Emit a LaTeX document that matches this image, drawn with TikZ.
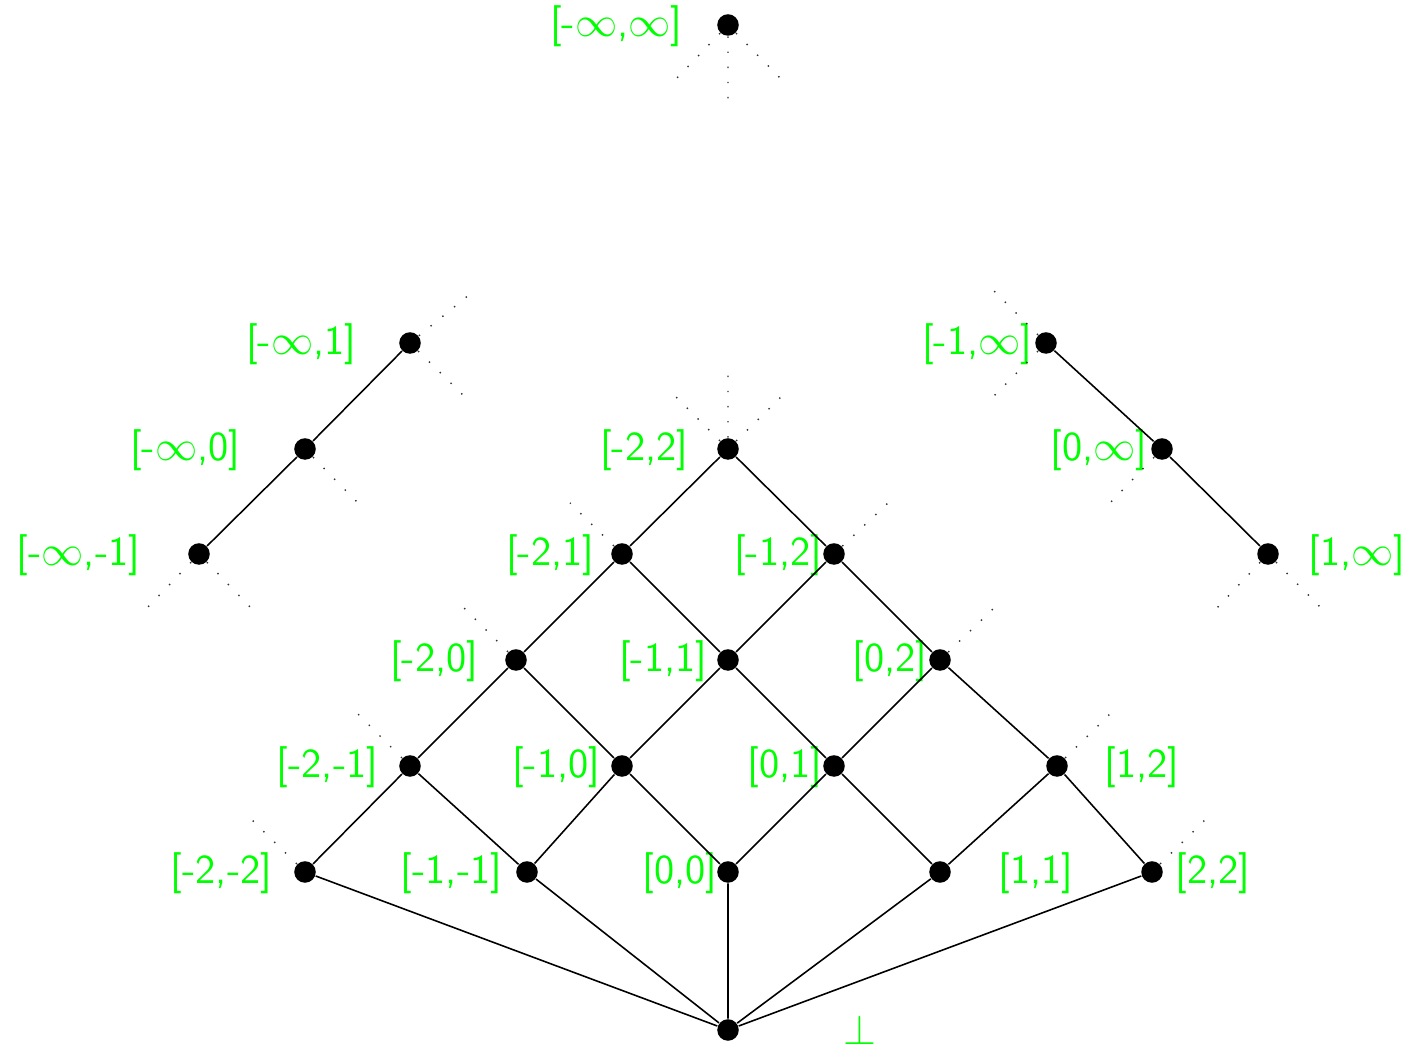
\documentclass[tikz,border=0pt]{standalone}
\begin{document}
\begin{tikzpicture}[x=0.01cm,y=-0.01cm,
  dot/.style={circle,fill=black,inner sep=0pt,minimum size=0.215cm},
  lbl/.style={text=green,font=\sffamily\fontsize{11.7}{14}\selectfont,inner sep=0pt},
  edge/.style={line width=0.45pt},
  stub/.style={line width=0.4pt,black!80,dash pattern=on 0.4pt off 3.9pt}]
\useasboundingbox (0,0) rectangle (1405,1046);
% nodes
\node[dot] (top) at (728,25) {};
\node[dot] (mi1) at (410,343) {};
\node[dot] (mi0) at (305,449) {};
\node[dot] (mim1) at (199,554) {};
\node[dot] (pim1) at (1046,343) {};
\node[dot] (pi0) at (1162,449) {};
\node[dot] (pi1) at (1268,554) {};
\node[dot] (a) at (728,449) {};
\node[dot] (b1) at (622,554) {};
\node[dot] (b2) at (834,554) {};
\node[dot] (c1) at (516,660) {};
\node[dot] (c2) at (728,660) {};
\node[dot] (c3) at (940,660) {};
\node[dot] (d1) at (410,766) {};
\node[dot] (d2) at (622,766) {};
\node[dot] (d3) at (834,766) {};
\node[dot] (d4) at (1057,766) {};
\node[dot] (e1) at (305,872) {};
\node[dot] (e2) at (527,872) {};
\node[dot] (e3) at (728,872) {};
\node[dot] (e4) at (940,872) {};
\node[dot] (e5) at (1152,872) {};
\node[dot] (bot) at (728,1030) {};
% labels
\node[lbl,anchor=east] (ltop) at (683,26) {[-$\infty$,$\infty$]};
\node[lbl,anchor=east] (lmi1) at (357,344) {[-$\infty$,1]};
\node[lbl,anchor=east] (lmi0) at (241,450) {[-$\infty$,0]};
\node[lbl,anchor=east] (lmim1) at (141,555) {[-$\infty$,-1]};
\node[lbl,anchor=east] (lpim1) at (1033,344) {[-1,$\infty$]};
\node[lbl,anchor=east] (lpi0) at (1148,450) {[0,$\infty$]};
\node[lbl,anchor=west] (lpi1) at (1308,555) {[1,$\infty$]};
\node[lbl,anchor=east] (la) at (689,450) {[-2,2]};
\node[lbl,anchor=east] (lb1) at (595,555) {[-2,1]};
\node[lbl,anchor=east] (lb2) at (823,555) {[-1,2]};
\node[lbl,anchor=east] (lc1) at (479,661) {[-2,0]};
\node[lbl,anchor=east] (lc2) at (708,661) {[-1,1]};
\node[lbl,anchor=east] (lc3) at (928,661) {[0,2]};
\node[lbl,anchor=east] (ld1) at (379,767) {[-2,-1]};
\node[lbl,anchor=east] (ld2) at (601,767) {[-1,0]};
\node[lbl,anchor=east] (ld3) at (823,767) {[0,1]};
\node[lbl,anchor=west] (ld4) at (1104,767) {[1,2]};
\node[lbl,anchor=east] (le1) at (273,873) {[-2,-2]};
\node[lbl,anchor=east] (le2) at (503,873) {[-1,-1]};
\node[lbl,anchor=east] (le3) at (718,873) {[0,0]};
\node[lbl,anchor=west] (le4) at (998,873) {[1,1]};
\node[lbl,anchor=west] (le5) at (1175,873) {[2,2]};
\node[lbl] (lbot) at (860,1030) {$\perp$};
% solid edges
\draw[edge] (mi1) -- (mi0) (mi0) -- (mim1);
\draw[edge] (pim1) -- (pi0) (pi0) -- (pi1);
\draw[edge] (a) -- (b1) (a) -- (b2);
\draw[edge] (b1) -- (c1) (b1) -- (c2) (b2) -- (c2) (b2) -- (c3);
\draw[edge] (c1) -- (d1) (c1) -- (d2) (c2) -- (d2) (c2) -- (d3) (c3) -- (d3) (c3) -- (d4);
\draw[edge] (d1) -- (e1) (d1) -- (e2) (d2) -- (e2) (d2) -- (e3) (d3) -- (e3) (d3) -- (e4) (d4) -- (e4) (d4) -- (e5);
\draw[edge] (e1) -- (bot) (e2) -- (bot) (e3) -- (bot) (e4) -- (bot) (e5) -- (bot);
% dotted stubs
\coordinate (s1) at (675,80); \coordinate (s2) at (728,106); \coordinate (s3) at (782,80);
\coordinate (s4) at (475,290); \coordinate (s5) at (465,397);
\coordinate (s6) at (993,290); \coordinate (s7) at (993,397);
\coordinate (s8) at (675,396); \coordinate (s9) at (728,370); \coordinate (s10) at (782,396);
\coordinate (s11) at (358,503);
\coordinate (s12) at (146,609); \coordinate (s13) at (252,609);
\coordinate (s14) at (1110,503);
\coordinate (s15) at (1216,609); \coordinate (s16) at (1322,609);
\coordinate (s17) at (570,503); \coordinate (s18) at (888,503);
\coordinate (s19) at (464,608); \coordinate (s20) at (994,608);
\coordinate (s21) at (358,714); \coordinate (s22) at (1110,714);
\coordinate (s23) at (252,820); \coordinate (s24) at (1205,820);
\draw[stub] (top) -- (s1) (top) -- (s2) (top) -- (s3);
\draw[stub] (mi1) -- (s4) (mi1) -- (s5);
\draw[stub] (pim1) -- (s6) (pim1) -- (s7);
\draw[stub] (a) -- (s8) (a) -- (s9) (a) -- (s10);
\draw[stub] (mi0) -- (s11);
\draw[stub] (mim1) -- (s12) (mim1) -- (s13);
\draw[stub] (pi0) -- (s14);
\draw[stub] (pi1) -- (s15) (pi1) -- (s16);
\draw[stub] (b1) -- (s17) (b2) -- (s18);
\draw[stub] (c1) -- (s19) (c3) -- (s20);
\draw[stub] (d1) -- (s21) (d4) -- (s22);
\draw[stub] (e1) -- (s23) (e5) -- (s24);
\end{tikzpicture}
\end{document}
